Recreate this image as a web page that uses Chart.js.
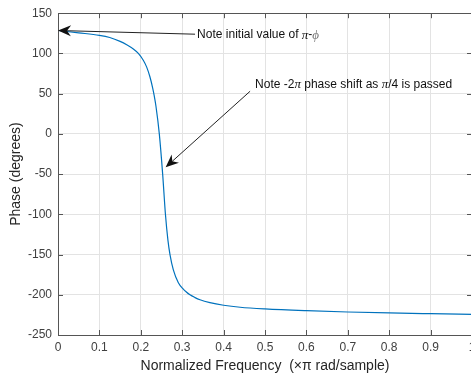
<!DOCTYPE html>
<html>
<head>
<meta charset="utf-8">
<script src="https://cdn.jsdelivr.net/npm/chart.js@4.4.1/dist/chart.umd.min.js"></script>
<style>
  html, body { margin: 0; padding: 0; background: #fff; overflow: hidden; }
  #wrap { width: 490px; height: 376px; }
</style>
</head>
<body>
<div id="wrap"><canvas id="c" width="490" height="376"></canvas></div>
<script>
// ---- data ----
const freq  = [0, 0.05, 0.1, 0.125, 0.15, 0.166, 0.182, 0.194, 0.206, 0.214, 0.222, 0.2287, 0.232, 0.2367, 0.2447, 0.2528, 0.2595, 0.2655, 0.2705, 0.2786, 0.2907, 0.3027, 0.31, 0.3188, 0.33, 0.343, 0.367, 0.4, 0.44, 0.5, 0.6, 0.7, 0.8, 0.9, 1.0];
const phase = [128.5, 125.6, 122.5, 119.8, 115, 110.8, 105.5, 100, 91.6, 83.3, 71, 57, 48.5, 34, 0, -50, -100, -132, -150, -169, -185, -193, -196.5, -200, -203.2, -206.2, -209.8, -213, -215.5, -217.6, -219.8, -221.4, -222.6, -223.5, -224.3];
const xTicks = [0, 0.1, 0.2, 0.3, 0.4, 0.5, 0.6, 0.7, 0.8, 0.9, 1];
const yTicks = [-250, -200, -150, -100, -50, 0, 50, 100, 150];
const xTitle = 'Normalized Frequency  (\u00d7\u03c0 rad/sample)';
const yTitle = 'Phase (degrees)';
const noteTexts = ['Note initial value of \u03c0-\u03d5', 'Note -2\u03c0 phase shift as \u03c0/4 is passed'];
// annotation anchors in data units: [tailX, tailY, tipX, tipY, textX, textY]
const noteAnchors = [
  [0.331, 123.9, 0.0, 128.5, 0.336, 122.7],
  [0.464, 53.0, 0.26, -41.5, 0.476, 61.7]
];

const FONT = '"Liberation Sans", Arial, Helvetica, sans-serif';
const SERIF = '"Liberation Serif", "DejaVu Serif", serif';

function drawRich(ctx, text, x, y) {
  let cx = x;
  for (const ch of text) {
    const greek = ch === '\u03c0' || ch === '\u03d5';
    ctx.font = greek ? 'italic 13px ' + SERIF : '12px ' + FONT;
    ctx.fillStyle = ch === '\u03d5' ? '#777' : '#111';
    ctx.fillText(ch, cx, y);
    cx += ctx.measureText(ch).width;
  }
}

const boxPlugin = {
  id: 'matlabBox',
  afterDraw(chart) {
    const ctx = chart.ctx;
    const a = chart.chartArea;
    const xs = chart.scales.x, ys = chart.scales.y;
    ctx.save();
    ctx.strokeStyle = '#555555';
    ctx.lineWidth = 1;
    ctx.strokeRect(Math.round(a.left) + 0.5, Math.round(a.top) + 0.5, Math.round(a.right - a.left), Math.round(a.bottom - a.top));
    const tl = 5;
    ctx.beginPath();
    xTicks.forEach(v => {
      const px = Math.round(xs.getPixelForValue(v)) + 0.5;
      ctx.moveTo(px, a.bottom); ctx.lineTo(px, a.bottom - tl);
      ctx.moveTo(px, a.top); ctx.lineTo(px, a.top + tl);
    });
    yTicks.forEach(v => {
      const py = Math.round(ys.getPixelForValue(v)) + 0.5;
      ctx.moveTo(a.left, py); ctx.lineTo(a.left + tl, py);
      ctx.moveTo(a.right, py); ctx.lineTo(a.right - tl, py);
    });
    ctx.stroke();

    noteAnchors.forEach((n, i) => {
      const tx = xs.getPixelForValue(n[0]), ty = ys.getPixelForValue(n[1]);
      const hx = xs.getPixelForValue(n[2]), hy = ys.getPixelForValue(n[3]);
      const ang = Math.atan2(hy - ty, hx - tx);
      const L = 13, W = 5.5, back = 9;
      ctx.strokeStyle = '#222';
      ctx.lineWidth = 1;
      ctx.beginPath();
      ctx.moveTo(tx, ty);
      ctx.lineTo(hx - Math.cos(ang) * back, hy - Math.sin(ang) * back);
      ctx.stroke();
      const c = Math.cos(ang), s = Math.sin(ang);
      const bx = hx - c * L, by = hy - s * L;
      ctx.fillStyle = '#111';
      ctx.beginPath();
      ctx.moveTo(hx, hy);
      ctx.lineTo(bx - s * W, by + c * W);
      ctx.lineTo(hx - c * back, hy - s * back);
      ctx.lineTo(bx + s * W, by - c * W);
      ctx.closePath();
      ctx.fill();
      ctx.textBaseline = 'middle';
      ctx.textAlign = 'left';
      drawRich(ctx, noteTexts[i], xs.getPixelForValue(n[4]), ys.getPixelForValue(n[5]));
    });
    ctx.restore();
  }
};

new Chart(document.getElementById('c'), {
  type: 'line',
  data: {
    datasets: [{
      data: freq.map((f, i) => ({ x: f, y: phase[i] })),
      borderColor: '#0072BD',
      borderWidth: 1.2,
      pointRadius: 0,
      fill: false,
      cubicInterpolationMode: 'monotone'
    }]
  },
  options: {
    responsive: false,
    animation: false,
    events: [],
    layout: { padding: { left: 0, top: 13, right: 18, bottom: 0 } },
    plugins: { legend: { display: false }, tooltip: { enabled: false } },
    scales: {
      x: {
        type: 'linear',
        min: 0, max: 1,
        afterBuildTicks(scale) { scale.ticks = xTicks.map(v => ({ value: v })); },
        afterFit(scale) { scale.height = 41; },
        grid: { color: '#e3e3e3', drawTicks: false },
        border: { display: false },
        ticks: {
          padding: 5,
          color: '#404040',
          font: { family: FONT, size: 12 },
          maxRotation: 0,
          autoSkip: false,
          callback: v => String(v)
        },
        title: {
          display: true,
          text: xTitle,
          color: '#262626',
          font: { family: FONT, size: 14 },
          padding: { top: 0, bottom: 1 }
        }
      },
      y: {
        type: 'linear',
        min: -250, max: 150,
        afterBuildTicks(scale) { scale.ticks = yTicks.map(v => ({ value: v })); },
        afterFit(scale) { scale.width = 58; },
        grid: { color: '#e3e3e3', drawTicks: false },
        border: { display: false },
        ticks: {
          padding: 6,
          color: '#404040',
          font: { family: FONT, size: 12 },
          autoSkip: false,
          callback: v => String(v)
        },
        title: {
          display: true,
          text: yTitle,
          color: '#262626',
          font: { family: FONT, size: 14 },
          padding: { top: 8, bottom: 0 }
        }
      }
    }
  },
  plugins: [boxPlugin]
});
</script>
</body>
</html>
